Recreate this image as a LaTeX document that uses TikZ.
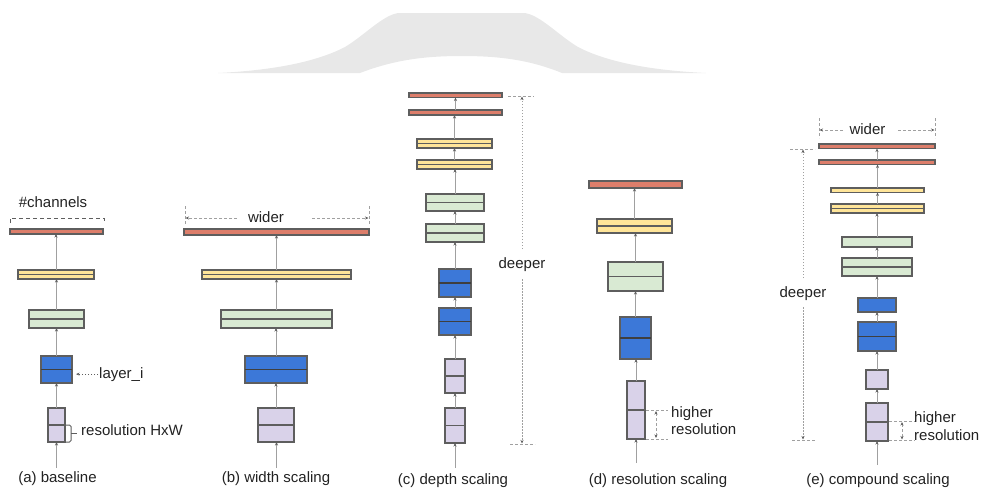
\documentclass[tikz,border=0pt]{standalone}
\usepackage{fontspec}
\setmainfont{Liberation Sans}
\usetikzlibrary{arrows.meta,fit}
\definecolor{cred}{HTML}{DD7E6B}
\definecolor{cyel}{HTML}{FFE599}
\definecolor{cgrn}{HTML}{D9EAD3}
\definecolor{cblu}{HTML}{3C78D8}
\definecolor{clav}{HTML}{D9D2E9}
\definecolor{cedge}{HTML}{5E5E5E}
\definecolor{cbmid}{HTML}{3F3F3F}
\definecolor{cstem}{HTML}{A0A0A0}
\definecolor{ctxt}{HTML}{222222}
\definecolor{cwm}{HTML}{E8E8E8}
\newcommand\bx[6]{\node[#2,fit={(#3,#4) (#5,#6)}] (#1) {};}
\newcommand\midln[1]{\draw[cedge,line width=1.2pt] (#1.west) -- (#1.east);}
\newcommand\bmidln[1]{\draw[cbmid,line width=1.5pt] (#1.west) -- (#1.east);}
\newcommand\up[2]{\draw[conn] (#1.north) -- (#1.north |- #2.south);}
\begin{document}
\begin{tikzpicture}[x=1pt,y=-1pt,
  blk/.style={draw=cedge,line width=1.2pt,inner sep=0pt,outer sep=0pt},
  rd/.style={blk,fill=cred},
  yl/.style={blk,fill=cyel},
  gn/.style={blk,fill=cgrn},
  bl/.style={blk,fill=cblu},
  lv/.style={blk,fill=clav},
  tipx/.style={-{Stealth[length=3.5pt,width=3pt,color=cedge]}},
  conn/.style={draw=cstem,line width=0.9pt,tipx},
  lbl/.style={font=\fontsize{15}{17}\selectfont,text=ctxt,inner sep=0pt},
  dimln/.style={draw=cstem,line width=0.8pt,dash pattern=on 3pt off 2pt},
  dotln/.style={draw=cstem,line width=0.8pt,dash pattern=on 1.5pt off 1.5pt}
]
\useasboundingbox (0,0) rectangle (983,490);
% faint watermark
\fill[cwm] (218,73) .. controls (280,70) and (320,60) .. (345,47)
  .. controls (365,35) and (385,13) .. (400,13) -- (523,13)
  .. controls (538,13) and (558,35) .. (578,47)
  .. controls (603,60) and (643,70) .. (706,73) -- (562,73)
  .. controls (530,60) and (500,56) .. (462,56)
  .. controls (424,56) and (394,60) .. (360,73) -- cycle;

% ---------------- (a) baseline
\bx{a1}{rd}{10}{229}{103}{234}
\bx{a2}{yl}{18}{270}{94}{279} \midln{a2}
\bx{a3}{gn}{29}{310}{84}{328} \midln{a3}
\bx{a4}{bl}{41}{356}{72}{383} \bmidln{a4}
\bx{a5}{lv}{48}{408}{65}{442} \midln{a5}
\coordinate (a0) at (56.5,468);
\draw[conn] (a0) -- (a0 |- a5.south);
\up{a5}{a4} \up{a4}{a3} \up{a3}{a2} \up{a2}{a1}
\draw[cedge,line width=0.9pt,dash pattern=on 4pt off 3pt] (10,223) -- (10,218) -- (104,218) -- (104,223);
\coordinate (ach) at (56.5,221);
\draw[draw=none,tipx] (ach) -- ++(0,-4);
\node[lbl,anchor=base] (achl) at (53,207) {\#channels};
\node[lbl,anchor=base west] (alay) at (99,378) {layer\_i};
\draw[cedge,line width=0.8pt,dash pattern=on 1.5pt off 1.5pt,tipx] ([xshift=-1pt]alay.west) -- ([xshift=4pt]a4.east |- alay.west);
\draw[cedge,line width=1pt,rounded corners=1.5pt] (66,425) -- (71,425) -- (71,442) -- (66,442);
\draw[cedge,line width=1pt] (71,433.5) -- (77,433.5);
\node[lbl,anchor=base west] (ares) at (81,435) {resolution HxW};
\node[lbl,anchor=base] (acap) at (57.5,482) {(a) baseline};

% ---------------- (b) width scaling
\bx{b1}{rd}{184}{229}{369}{235}
\bx{b2}{yl}{202}{270}{351}{279} \midln{b2}
\bx{b3}{gn}{221}{310}{332}{328} \midln{b3}
\bx{b4}{bl}{245}{356}{307}{383} \bmidln{b4}
\bx{b5}{lv}{258}{408}{294}{442} \midln{b5}
\coordinate (b0) at (276.5,468);
\draw[conn] (b0) -- (b0 |- b5.south);
\up{b5}{b4} \up{b4}{b3} \up{b3}{b2} \up{b2}{b1}
\draw[dimln] (185,206) -- (185,224);
\draw[dimln] (369,206) -- (369,224);
\node[lbl,anchor=base] (bw) at (266,222) {wider};
\draw[dimln,tipx] (237,218) -- (185.5,218);
\draw[dimln,tipx] (312,218) -- (368.5,218);
\node[lbl,anchor=base] (bcap) at (276,482) {(b) width scaling};

% ---------------- (c) depth scaling
\bx{c1}{rd}{409}{93}{502}{97.5}
\bx{c2}{rd}{409}{110}{502}{115}
\bx{c3}{yl}{417}{139}{492}{148} \midln{c3}
\bx{c4}{yl}{417}{160}{492}{169} \midln{c4}
\bx{c5}{gn}{426}{194}{484}{211} \midln{c5}
\bx{c6}{gn}{426}{224}{484}{242} \midln{c6}
\bx{c7}{bl}{439}{269}{471}{297} \bmidln{c7}
\bx{c8}{bl}{439}{308}{471}{335} \bmidln{c8}
\bx{c9}{lv}{445}{359}{465}{393} \midln{c9}
\bx{c10}{lv}{445}{408}{465}{443} \midln{c10}
\coordinate (c0) at (455,468);
\draw[conn] (c0) -- (c0 |- c10.south);
\up{c10}{c9} \up{c9}{c8} \up{c8}{c7} \up{c7}{c6} \up{c6}{c5}
\up{c5}{c4} \up{c4}{c3} \up{c3}{c2} \up{c2}{c1}
\draw[dimln] (508,96) -- (534,96);
\draw[dimln] (510,444) -- (535,444);
\node[lbl,anchor=base] (cdeep) at (522,268) {deeper};
\draw[dotln,tipx] (522,249) -- (522,96.5);
\draw[dotln,tipx] (522,279) -- (522,443.5);
\node[lbl,anchor=base] (ccap) at (453,484) {(c) depth scaling};

% ---------------- (d) resolution scaling
\bx{d1}{rd}{589}{181}{682}{188}
\bx{d2}{yl}{597}{219}{672}{233} \midln{d2}
\bx{d3}{gn}{608}{262}{663}{291} \midln{d3}
\bx{d4}{bl}{620}{317}{651}{359} \bmidln{d4}
\bx{d5}{lv}{627}{381}{645}{439} \midln{d5}
\coordinate (d0) at (636,463);
\draw[conn] (d0) -- (d0 |- d5.south);
\up{d5}{d4} \up{d4}{d3} \up{d3}{d2} \up{d2}{d1}
\draw[dimln] (646,410) -- (668,410);
\draw[dimln] (646,439) -- (668,439);
\draw[dimln,{Stealth[length=3.5pt,width=3pt,color=cedge]}-{Stealth[length=3.5pt,width=3pt,color=cedge]}] (656,411) -- (656,438);
\node[lbl,anchor=base west] (dh1) at (671,417) {higher};
\node[lbl,anchor=base west] (dh2) at (671,434) {resolution};
\node[lbl,anchor=base] (dcap) at (658,484) {(d) resolution scaling};

% ---------------- (e) compound scaling
\bx{e1}{rd}{819}{144}{935}{148.5}
\bx{e2}{rd}{819}{160}{935}{164.5}
\bx{e3}{yl}{831}{188}{924}{192.5}
\bx{e4}{yl}{831}{204}{924}{213} \midln{e4}
\bx{e5}{gn}{842}{237}{912}{247}
\bx{e6}{gn}{842}{258}{912}{276} \midln{e6}
\bx{e7}{bl}{858}{298}{896}{312}
\bx{e8}{bl}{858}{322}{896}{351} \bmidln{e8}
\bx{e9}{lv}{866}{370}{888}{389}
\bx{e10}{lv}{866}{403}{888}{441} \midln{e10}
\coordinate (e0) at (877,465);
\draw[conn] (e0) -- (e0 |- e10.south);
\up{e10}{e9} \up{e9}{e8} \up{e8}{e7} \up{e7}{e6} \up{e6}{e5}
\up{e5}{e4} \up{e4}{e3} \up{e3}{e2} \up{e2}{e1}
\draw[dimln] (819,118) -- (819,138);
\draw[dimln] (935,118) -- (935,138);
\node[lbl,anchor=base] (ew) at (867.5,134) {wider};
\draw[dimln,tipx] (843,130) -- (819.5,130);
\draw[dimln,tipx] (898,130) -- (934.5,130);
\draw[dimln] (790,149) -- (815,149);
\draw[dimln] (792,440) -- (816,440);
\node[lbl,anchor=base] (edeep) at (803,297) {deeper};
\draw[dotln,tipx] (803,278) -- (803,149.5);
\draw[dotln,tipx] (803,307) -- (803,439.5);
\draw[dimln] (889,421) -- (915,421);
\draw[dimln] (889,440.5) -- (915,440.5);
\draw[dimln,{Stealth[length=3.5pt,width=3pt,color=cedge]}-{Stealth[length=3.5pt,width=3pt,color=cedge]}] (902,422) -- (902,439.5);
\node[lbl,anchor=base west] (eh1) at (914,422) {higher};
\node[lbl,anchor=base west] (eh2) at (914,440) {resolution};
\node[lbl,anchor=base] (ecap) at (878,484) {(e) compound scaling};
\end{tikzpicture}
\end{document}
